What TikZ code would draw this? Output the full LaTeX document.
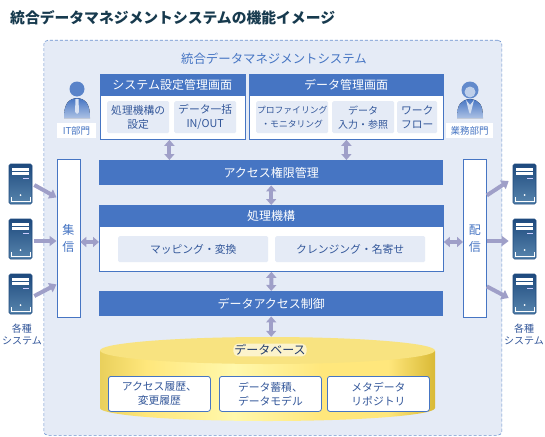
\documentclass[tikz,border=0pt]{standalone}
\usepackage{fontspec}
\setmainfont{Noto Sans CJK JP}
\usepackage{tikz}
\usetikzlibrary{arrows.meta,shapes.geometric}

\definecolor{barblue}{HTML}{4675C3}
\definecolor{panelblue}{HTML}{E5EBF6}
\definecolor{textblue}{HTML}{33579A}
\definecolor{arrowgray}{HTML}{9F9FC8}
\definecolor{titledark}{HTML}{173A4E}
\definecolor{dbtopcol}{HTML}{F8E380}
\definecolor{srvtop}{HTML}{1E4A7E}
\definecolor{srvbot}{HTML}{5885AD}
\definecolor{dbleft}{HTML}{E9D05C}
\definecolor{dbpale}{HTML}{FFF8AC}
\definecolor{dbmid}{HTML}{FFE77C}
\definecolor{dbright}{HTML}{D9B935}
\pgfdeclarehorizontalshading{dbside}{100bp}{color(0bp)=(dbleft); color(25bp)=(dbleft);
  color(32bp)=(dbmid); color(45bp)=(dbpale); color(58bp)=(dbmid); color(68bp)=(dbmid);
  color(75bp)=(dbright); color(100bp)=(dbright)}

\begin{document}
\begin{tikzpicture}[x=1pt,y=-1pt,>=latex]
\tikzstyle{bar}=[fill=barblue, text=white, anchor=north west, inner sep=0pt, font=\fontsize{12}{14}\selectfont]
\tikzstyle{frame}=[draw=barblue, line width=.8pt, fill=white, anchor=north west, inner sep=0pt]
\tikzstyle{inbox}=[fill=panelblue, rounded corners=1.5pt, text=textblue, anchor=north west, inner sep=0pt, align=center, font=\fontsize{10.8}{14}\selectfont]
\tikzstyle{dbbox}=[draw=barblue, line width=.8pt, fill=white, rounded corners=2.5pt, text=textblue, anchor=north west, inner sep=0pt, minimum width=102pt, minimum height=35pt, align=center, font=\fontsize{10.8}{14}\selectfont]
\tikzstyle{srv}=[draw=srvtop, line width=.6pt, rounded corners=1.5pt, top color=srvtop, bottom color=srvbot, minimum width=23pt, minimum height=40pt, inner sep=0pt]
\tikzstyle{flow}=[draw=arrowgray, line width=4pt, -{Triangle[width=10pt,length=7pt]}]
\tikzstyle{link}=[draw=arrowgray, line width=4pt, {Triangle[width=10pt,length=6pt]}-{Triangle[width=10pt,length=6pt]}]
\tikzstyle{caption}=[text=textblue, align=center, font=\fontsize{10}{12}\selectfont]

\useasboundingbox (0,0) rectangle (545,436);
\fill[white] (0,0) rectangle (545,436);

% title
\node[anchor=west, text=titledark, inner sep=0pt, font=\fontsize{14.8}{16}\selectfont\bfseries] (title) at (10,18) {統合データマネジメントシステムの機能イメージ};

% outer panel
\node[draw=barblue!80, densely dashed, line width=.6pt, fill=panelblue, rounded corners=4pt, anchor=north west, minimum width=458pt, minimum height=395pt, inner sep=0pt] (panel) at (43.5,40) {};
\node[text=barblue, font=\fontsize{12.4}{15}\selectfont] (paneltitle) at (274,59) {統合データマネジメントシステム};

% settings screen
\node[frame, minimum width=145pt, minimum height=65pt] (sysbox) at (99.5,74) {};
\node[bar, minimum width=145pt, minimum height=22pt] (syshead) at (99.5,74) {システム設定管理画面};
\node[inbox, minimum width=62pt, minimum height=32pt] (sysa) at (107,101) {処理機構の\\設定};
\node[inbox, minimum width=62pt, minimum height=32pt] (sysb) at (174,101) {データ一括\\IN/OUT};

% data screen
\node[frame, minimum width=194pt, minimum height=65pt] (datbox) at (249,74) {};
\node[bar, minimum width=194pt, minimum height=22pt] (dathead) at (249,74) {データ管理画面};
\node[inbox, minimum width=72pt, minimum height=32pt, font=\fontsize{8.8}{14}\selectfont] (data) at (256,101) {プロファイリング\\・モニタリング};
\node[inbox, minimum width=62pt, minimum height=32pt, font=\fontsize{10}{14}\selectfont] (datb) at (332,101) {データ\\入力・参照};
\node[inbox, minimum width=40pt, minimum height=32pt] (datc) at (397,101) {ワーク\\フロー};

% bars
\node[bar, minimum width=344pt, minimum height=25pt] (access) at (99,160) {アクセス権限管理};
\node[frame, minimum width=344pt, minimum height=66pt] (procbox) at (99,205) {};
\node[bar, minimum width=344pt, minimum height=22pt] (prochead) at (99,205) {処理機構};
\node[inbox, minimum width=150pt, minimum height=26pt] (proca) at (118,236) {マッピング・変換};
\node[inbox, minimum width=150pt, minimum height=26pt] (procb) at (275,236) {クレンジング・名寄せ};
\node[bar, minimum width=344pt, minimum height=25pt] (control) at (99,291) {データアクセス制御};

% database
\shade[shading=dbside] (100,351) -- (100,408) arc[start angle=180, end angle=0, x radius=167.5, y radius=13] -- (435,351) -- cycle;
\node[ellipse, fill=dbtopcol, minimum width=335pt, minimum height=27pt, inner sep=0pt] (dbtop) at (267.5,350.5) {};
\node[fill=white, fill opacity=.6, text opacity=1, text=textblue!70!black, rounded corners=5pt, inner sep=1pt, font=\fontsize{12}{14}\selectfont] (dblabel) at (270,350) {データベース};
\node[dbbox] (dba) at (108,376) {アクセス履歴、\\変更履歴};
\node[dbbox] (dbb) at (219,376) {データ蓄積、\\データモデル};
\node[dbbox] (dbc) at (327,376) {メタデータ\\リポジトリ};

% collect / deliver
\node[frame, minimum width=23pt, minimum height=158pt, align=center, text=barblue, font=\fontsize{12}{17}\selectfont] (collect) at (56.5,159) {集\\信};
\node[frame, minimum width=23pt, minimum height=158pt, align=center, text=barblue, font=\fontsize{12}{17}\selectfont] (deliver) at (463,159) {配\\信};

% servers
\foreach \nm/\px/\py in {srvla/20.5/184, srvlb/20.5/239, srvlc/20.5/294, srvra/524.5/184, srvrb/524.5/239, srvrc/524.5/294} {
  \node[srv] (\nm) at (\px,\py) {};
  \fill[white] (\px-8.5,\py-16) rectangle (\px+8.5,\py-13);
  \fill[white] (\px-8.5,\py-12) rectangle (\px+8.5,\py-9);
  \fill[white!80!blue] (\px+2,\py-6) rectangle (\px+8,\py-5);
  \fill[white] (\px,\py+11) circle (1pt);
  \draw[white, line width=.5pt] (\px-9.5,\py+13) -- (\px-9.5,\py+17) -- (\px+9.5,\py+17) -- (\px+9.5,\py+13);
}
\node[caption] (capl) at (22,334) {各種\\システム};
\node[caption] (capr) at (524,334) {各種\\システム};

% persons
\fill[top color=barblue, bottom color=barblue!45] (64,118) .. controls (64,104) and (68,99) .. (77,98) .. controls (86,99) and (90,104) .. (90,118) -- cycle;
\fill[white!80!barblue] (75.5,99) -- (78.5,99) -- (79,112) -- (77,114) -- (75,112) -- cycle;
\node[circle, fill=barblue!90, minimum size=15pt, inner sep=0pt] (ithead) at (77,89) {};
\node[fill=white, text=barblue, inner sep=0pt, minimum width=39pt, minimum height=15pt, font=\fontsize{9.5}{11}\selectfont] (itlabel) at (76.5,130.5) {IT部門};

\fill[top color=barblue, bottom color=barblue!45] (457,118) .. controls (457,104) and (461,100) .. (470,99) .. controls (479,100) and (483,104) .. (483,118) -- cycle;
\fill[white!75!barblue] (466,100) -- (470,105) -- (474,100) -- (471,112) -- (470,114) -- (469,112) -- cycle;
\node[circle, fill=barblue!85, minimum size=17pt, inner sep=0pt] (bizhair) at (470,90) {};
\node[circle, fill=barblue!35, minimum size=11pt, inner sep=0pt] (bizhead) at (470,92) {};
\node[fill=white, text=barblue, inner sep=0pt, minimum width=47pt, minimum height=15pt, font=\fontsize{9.5}{11}\selectfont] (bizlabel) at (469.5,130.5) {業務部門};

% connectors
\draw[link] ([xshift=-3pt]sysbox.south) -- ([xshift=-3pt]sysbox.south |- access.north);
\draw[link] (datbox.south) -- (datbox.south |- access.north);
\draw[link] (access.south) -- (prochead.north);
\draw[link] (procbox.south) -- (control.north);
\draw[link] (control.south) -- (control.south |- dbtop.north);
\draw[link] (collect.east |- 0,242) -- (procbox.west |- 0,242);
\draw[link] (procbox.east |- 0,242) -- (deliver.west |- 0,242);

\draw[flow] (srvla.east) ++(2,1) -- ([yshift=41pt]collect.west);
\draw[flow] (srvlb.east) ++(2,2) -- (collect.west |- 0,241);
\draw[flow] (srvlc.east) ++(2,2) -- ([yshift=-46pt]collect.west);
\draw[flow] ([yshift=43pt]deliver.east) -- ([xshift=-4pt,yshift=3pt]srvra.west);
\draw[flow] (deliver.east |- 0,241) -- ([xshift=-4pt,yshift=-2pt]srvrb.west);
\draw[flow] ([yshift=-48pt]deliver.east) -- ([xshift=-4pt,yshift=-4pt]srvrc.west);

\end{tikzpicture}
\end{document}
